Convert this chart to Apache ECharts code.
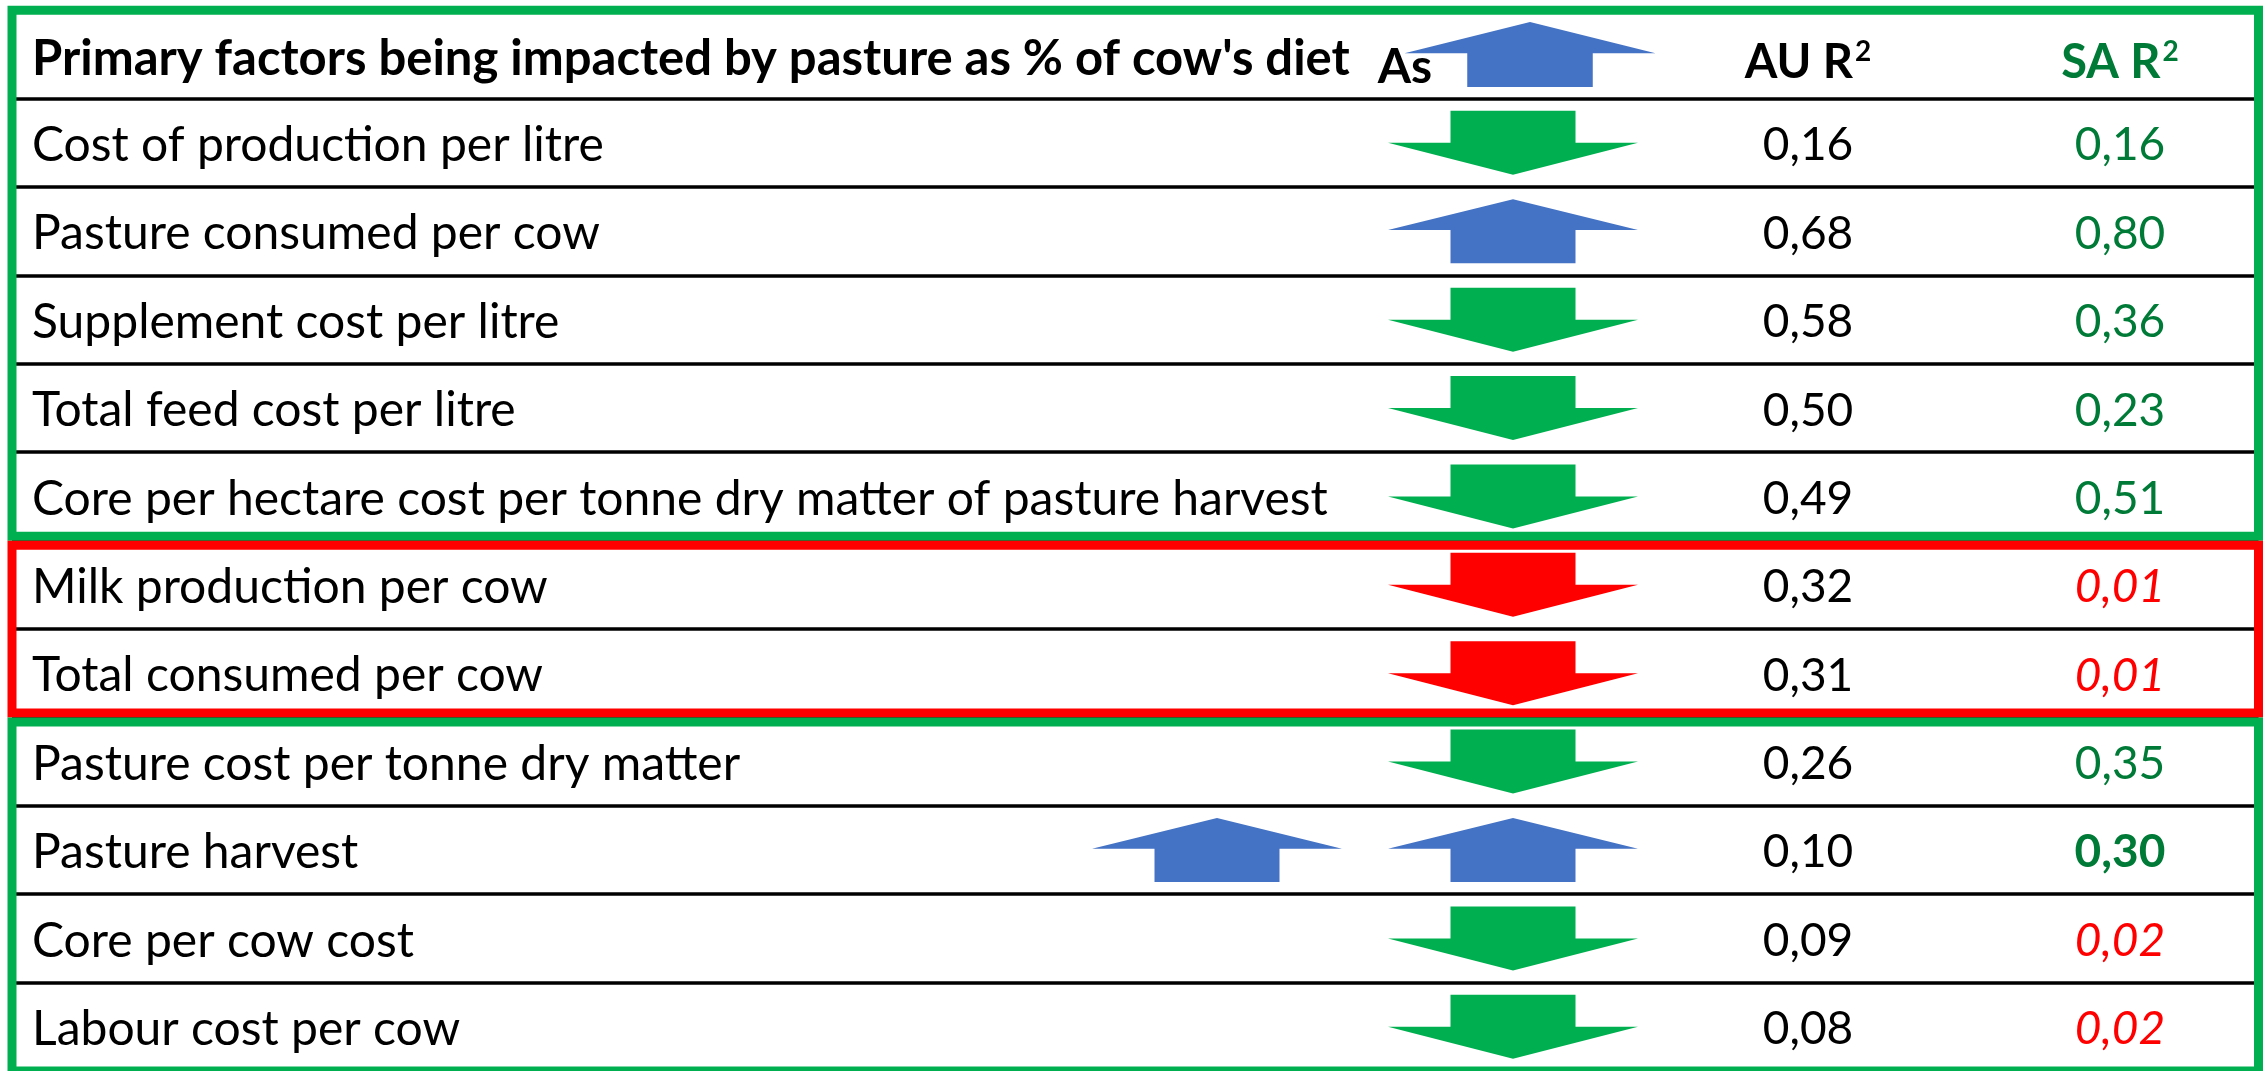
<!DOCTYPE html>
<html>
<head>
<meta charset="utf-8">
<title>Pasture factors</title>
<script src="https://cdn.jsdelivr.net/npm/echarts@6/dist/echarts.min.js"></script>
<style>
  html, body { margin: 0; padding: 0; background: #fff; }
  #chart { width: 2267px; height: 1071px; }
</style>
</head>
<body>
<div id="chart"></div>
<script>
// table rows
const factors = [
  'Cost of production per litre',
  'Pasture consumed per cow',
  'Supplement cost per litre',
  'Total feed cost per litre',
  'Core per hectare cost per tonne dry matter of pasture harvest',
  'Milk production per cow',
  'Total consumed per cow',
  'Pasture cost per tonne dry matter',
  'Pasture harvest',
  'Core per cow cost',
  'Labour cost per cow'
];
const auR2 = [0.16, 0.68, 0.58, 0.50, 0.49, 0.32, 0.31, 0.26, 0.10, 0.09, 0.08];
const saR2 = [0.16, 0.80, 0.36, 0.23, 0.51, 0.01, 0.01, 0.35, 0.30, 0.02, 0.02];
// how the SA value is shown: ok = green, weak = red italic, strong = green bold
const saFlag = ['ok', 'ok', 'ok', 'ok', 'ok', 'weak', 'weak', 'ok', 'strong', 'weak', 'weak'];
const direction = ['down', 'up', 'down', 'down', 'down', 'down', 'down', 'down', 'up', 'down', 'down'];
const arrowColour = ['green', 'blue', 'green', 'green', 'green', 'red', 'red', 'green', 'blue', 'green', 'green'];
// second arrow in front of the main one (only pasture harvest)
const extraArrow = [null, null, null, null, null, null, null, null, 'up', null, null];
// coloured frames round groups of rows (-1 = header row)
const groups = [
  { from: -1, to: 5, colour: 'green' },
  { from: 5, to: 7, colour: 'red' },
  { from: 7, to: 11, colour: 'green' }
];
const headerTitle = 'Primary factors being impacted by pasture as % of cow\'s diet';

// layout / styles
const W = 2246.5;
const COL = { text: 20, extra: 1205, arrow: 1501, headArrow: 1518, as: 1393, au: 1796, sa: 2108 };
const COLOURS = { green: '#00B050', blue: '#4472C4', red: '#FF0000', textGreen: '#007A37' };
const FONT = 'Lato';
const FS = 48;
const FS_NUM = 46;
const ARROW_SIZE = [250, 64];
const PATH_DOWN = 'path://M25,0 L75,0 L75,50 L100,50 L50,100 L0,50 L25,50 Z';
const PATH_UP = 'path://M50,0 L100,48 L75,48 L75,100 L25,100 L25,48 L0,48 Z';
const fmt = v => v.toFixed(2).replace('.', ',');

const chart = echarts.init(document.getElementById('chart'));

const rowY = i => i + 0.5;
const textY = i => i + 0.53;

const arrowData = [];
direction.forEach((d, i) => {
  arrowData.push({
    value: [COL.arrow, rowY(i)],
    symbol: d === 'up' ? PATH_UP : PATH_DOWN,
    itemStyle: { color: COLOURS[arrowColour[i]] }
  });
  if (extraArrow[i]) {
    arrowData.push({
      value: [COL.extra, rowY(i)],
      symbol: extraArrow[i] === 'up' ? PATH_UP : PATH_DOWN,
      itemStyle: { color: COLOURS[arrowColour[i]] }
    });
  }
});
// header arrow
arrowData.push({
  value: [COL.headArrow, -0.5],
  symbol: PATH_UP,
  symbolSize: [251, 65],
  itemStyle: { color: COLOURS.blue }
});

const saLabel = flag => {
  if (flag === 'weak') return { color: COLOURS.red, fontStyle: 'italic' };
  if (flag === 'strong') return { color: COLOURS.textGreen, fontWeight: 'bold' };
  return { color: COLOURS.textGreen };
};

const textSeries = (data, label) => ({
  type: 'scatter',
  symbolSize: 0,
  silent: true,
  emphasis: { disabled: true },
  itemStyle: { opacity: 1 },
  data: data,
  label: Object.assign({
    show: true,
    position: 'inside',
    fontFamily: FONT,
    fontSize: FS_NUM,
    color: '#000',
    formatter: p => p.data.text
  }, label),
  z: 5
});

const option = {
  animation: false,
  backgroundColor: '#fff',
  grid: { left: 12, top: 10.25, width: W, height: 1065, containLabel: false },
  xAxis: {
    type: 'value', min: 0, max: W,
    axisLine: { show: false }, axisTick: { show: false }, axisLabel: { show: false },
    splitLine: { show: false }
  },
  yAxis: {
    type: 'value', min: -1, max: 11, interval: 1, inverse: true,
    axisLine: { show: false }, axisTick: { show: false }, axisLabel: { show: false },
    splitLine: { show: true, lineStyle: { color: '#000', width: 3.5 } }
  },
  series: [
    {
      // row factor names
      ...textSeries(factors.map((f, i) => ({ value: [COL.text, textY(i)], text: f })),
        { position: 'right', distance: 0, fontSize: FS })
    },
    {
      ...textSeries(auR2.map((v, i) => ({ value: [COL.au, textY(i)], text: fmt(v) })), {})
    },
    {
      ...textSeries(saR2.map((v, i) => ({
        value: [COL.sa, textY(i)], text: fmt(v), label: saLabel(saFlag[i])
      })), {})
    },
    {
      // header
      ...textSeries([
        { value: [COL.text, -0.45], text: headerTitle, label: { position: 'right', distance: 0, fontSize: 49 } },
        { value: [COL.as, -0.35], text: 'As', label: { fontSize: 48 } },
        { value: [COL.au, -0.4], text: '{b|AU R}{s|2}' },
        { value: [COL.sa, -0.4], text: '{g|SA R}{gs|2}' }
      ], {
        fontWeight: 'bold',
        rich: {
          b: { fontFamily: FONT, fontSize: 47, fontWeight: 'bold', color: '#000' },
          s: { fontFamily: FONT, fontSize: 28, fontWeight: 'bold', color: '#000', padding: [0, 0, 22, 2] },
          g: { fontFamily: FONT, fontSize: 47, fontWeight: 'bold', color: COLOURS.textGreen },
          gs: { fontFamily: FONT, fontSize: 28, fontWeight: 'bold', color: COLOURS.textGreen, padding: [0, 0, 22, 2] }
        }
      })
    },
    {
      type: 'scatter',
      silent: true,
      emphasis: { disabled: true },
      symbolSize: ARROW_SIZE,
      itemStyle: { opacity: 1 },
      data: arrowData,
      z: 3
    },
    {
      // group frames
      type: 'custom',
      silent: true,
      z: 4,
      data: groups.map(g => [g.from, g.to, g.colour]),
      renderItem: (params, api) => {
        const lw = 9;
        const from = api.value(0), to = api.value(1);
        const p0 = api.coord([0, from]);
        const p1 = api.coord([W, to]);
        const top = p0[1] + (from === -1 ? 0 : lw / 2);
        const bot = p1[1] - (to === 11 ? 0 : lw / 2);
        const g = groups[params.dataIndex];
        return {
          type: 'rect',
          shape: { x: p0[0], y: top, width: p1[0] - p0[0], height: bot - top },
          style: { fill: null, stroke: COLOURS[g.colour], lineWidth: lw }
        };
      }
    }
  ]
};

chart.setOption(option);
</script>
</body>
</html>
